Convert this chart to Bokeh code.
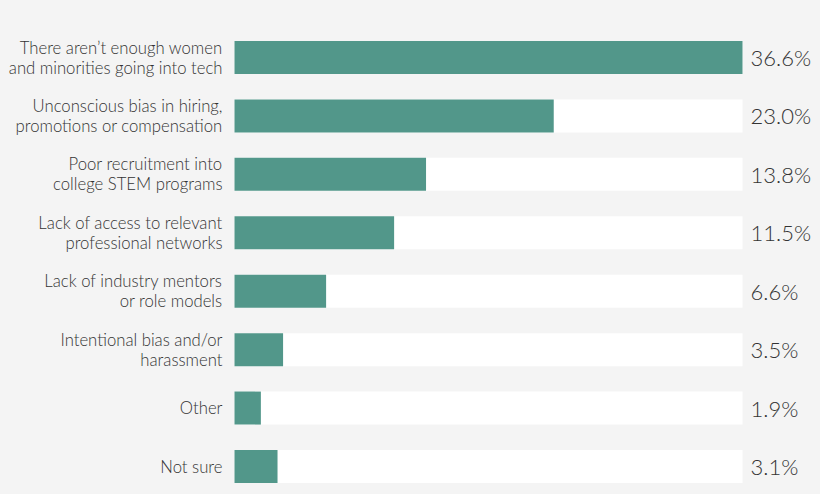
from bokeh.plotting import figure
from bokeh.models import Range1d, ColumnDataSource
from bokeh.embed import file_html
from bokeh.resources import INLINE
from bokeh.core.properties import value

# ---- data ----
categories = [
    "There aren\u2019t enough women\nand minorities going into tech",
    "Unconscious bias in hiring,\npromotions or compensation",
    "Poor recruitment into\ncollege STEM programs",
    "Lack of access to relevant\nprofessional networks",
    "Lack of industry mentors\nor role models",
    "Intentional bias and/or\nharassment",
    "Other",
    "Not sure",
]
values = [36.6, 23.0, 13.8, 11.5, 6.6, 3.5, 1.9, 3.1]
value_labels = ["36.6%", "23.0%", "13.8%", "11.5%", "6.6%", "3.5%", "1.9%", "3.1%"]

# ---- layout ----
W, H = 820, 494
BG = "#f4f4f4"
BAR = "#52978a"
TEXT = "#333333"
FONT = value("'Lato Light', Lato")
LEFT_PX = 234.0
TRACK_PX = 508.0
ROW_PX = 58.43
FIRST_PX = 57.0
BAR_PX = 33.0

vmax = max(values)
ppu = TRACK_PX / vmax
idx = list(range(len(categories)))

src = ColumnDataSource(dict(
    y=idx,
    v=values,
    track=[vmax] * len(values),
    zero=[0] * len(values),
    cat=categories,
    lab=value_labels,
))

p = figure(
    width=W, height=H,
    x_range=Range1d(-LEFT_PX / ppu, (W - LEFT_PX) / ppu),
    y_range=Range1d((H - FIRST_PX) / ROW_PX, -FIRST_PX / ROW_PX),
    output_backend="svg", toolbar_location=None,
    min_border=0, background_fill_color=BG, border_fill_color=BG,
    outline_line_color=None,
)
p.axis.visible = False
p.grid.visible = False

h = BAR_PX / ROW_PX
p.hbar(y="y", left="zero", right="track", height=h, source=src,
       fill_color="white", line_color=None)
p.hbar(y="y", left="zero", right="v", height=h, source=src,
       fill_color=BAR, line_color=None)

p.text(x="zero", y="y", text="cat", source=src, x_offset=-12,
       text_align="right", text_baseline="middle",
       text_font=FONT, text_font_size="16.7px", text_color=TEXT,
       text_line_height=1.0)
p.text(x="track", y="y", text="lab", source=src, x_offset=8,
       text_align="left", text_baseline="middle",
       text_font=FONT, text_font_size="22px", text_color=TEXT)

html = file_html(p, INLINE)
style = "<style>html,body{margin:0;padding:0;background:%s;overflow:hidden;}</style>" % BG
html = html.replace("</head>", style + "</head>", 1)
open("out.html", "w").write(html)
